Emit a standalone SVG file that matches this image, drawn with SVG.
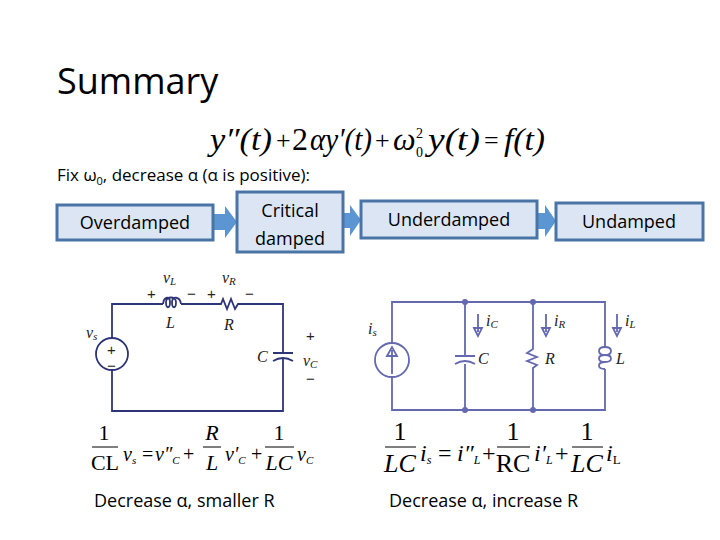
<svg xmlns="http://www.w3.org/2000/svg" width="720" height="540" viewBox="0 0 720 540">
<style>
.t{font-family:"Open Sans","Liberation Sans",sans-serif;fill:#000}
.box{fill:#dbe5f3;stroke:#4a74a6;stroke-width:3}
.arr{fill:#5b96d2}
.m{font-family:"Liberation Serif",serif;font-style:italic;fill:#000}
.r{font-family:"Liberation Serif",serif;fill:#000}
.w1{fill:none;stroke:#2e3576;stroke-width:1.8}
.w2{fill:none;stroke:#6468b0;stroke-width:1.8}
.ml{font-family:"Liberation Serif",serif;font-style:italic;font-size:16px;fill:#222}
.mp{font-family:"Liberation Sans",sans-serif;font-size:15px;fill:#222}
</style>
<rect width="720" height="540" fill="#fff"/>
<text class="t" x="57" y="94" font-size="36">Summary</text>
<g id="eq-main" font-size="32">
<text class="m" x="210" y="150" textLength="62" lengthAdjust="spacingAndGlyphs">y″(t)</text>
<text class="r" x="276" y="149" font-size="26">+</text>
<text class="r" x="292" y="150">2</text>
<text class="m" x="310" y="150" textLength="62" lengthAdjust="spacingAndGlyphs">αy′(t)</text>
<text class="r" x="375" y="149" font-size="26">+</text>
<text class="m" x="393" y="150">ω</text>
<text class="r" x="416" y="138" font-size="14">2</text>
<text class="r" x="416" y="157" font-size="14">0</text>
<text class="m" x="428" y="150" textLength="52" lengthAdjust="spacingAndGlyphs">y(t)</text>
<text class="r" x="484" y="149" font-size="26">=</text>
<text class="m" x="504" y="150" textLength="41" lengthAdjust="spacingAndGlyphs">f(t)</text>
</g>
<text class="t" x="57" y="181" font-size="17">Fix ω<tspan font-size="11" dy="4">0</tspan><tspan dy="-4">, decrease α (α is positive):</tspan></text>
<g id="connectors">
<polygon class="arr" points="214,214 225,214 225,206 237,222 225,238 225,230 214,230"/>
<polygon class="arr" points="343,213 350,213 350,205 361,220 350,236 350,228 343,228"/>
<polygon class="arr" points="537,213 545,213 545,205 556,221 545,237 545,229 537,229"/>
</g>
<g id="overdamped"><rect class="box" x="57" y="205" width="156" height="35"/><text class="t" x="135" y="229" font-size="18" text-anchor="middle">Overdamped</text></g>
<g id="critical"><rect class="box" x="237" y="192" width="106" height="60"/><text class="t" x="290" y="217" font-size="18" text-anchor="middle">Critical</text><text class="t" x="290" y="245" font-size="18" text-anchor="middle">damped</text></g>
<g id="underdamped"><rect class="box" x="361" y="201" width="176" height="37"/><text class="t" x="449" y="226" font-size="18" text-anchor="middle">Underdamped</text></g>
<g id="undamped"><rect class="box" x="556" y="203" width="147" height="37"/><text class="t" x="629" y="228" font-size="18" text-anchor="middle">Undamped</text></g>
<g id="series-circuit">
<path class="w1" d="M112,338 V304 H163 M181,304 H221 l2,-5 l4,10 l4,-10 l4,10 l3,-5 H283 V353 M283,359 V411 H112 V370"/>
<path class="w1" d="M163,304 C164,296 170,296 170,302 C170,309 166,309 166,302 C166,296 176,296 176,302 C176,309 172,309 172,302 C172,296 180,296 181,304"/>
<circle class="w1" cx="112" cy="354" r="16"/>
<path class="w1" d="M273,353 H293 M273,361 Q283,355 293,361"/>
<text class="mp" x="107" y="355">+</text><text class="mp" x="107" y="371">−</text>
<text class="ml" x="163" y="283">v<tspan font-size="11" dy="2">L</tspan></text>
<text class="ml" x="222" y="283">v<tspan font-size="11" dy="2">R</tspan></text>
<text class="mp" x="147" y="299">+</text><text class="mp" x="187" y="299">−</text>
<text class="mp" x="207" y="299">+</text><text class="mp" x="245" y="299">−</text>
<text class="ml" x="166" y="328">L</text><text class="ml" x="224" y="330">R</text>
<text class="ml" x="86" y="338">v<tspan font-size="11" dy="2">s</tspan></text>
<text class="ml" x="257" y="362">C</text>
<text class="mp" x="306" y="341">+</text><text class="ml" x="303" y="366">v<tspan font-size="11" dy="2">C</tspan></text><text class="mp" x="306" y="384">−</text>
</g>
<g id="parallel-circuit">
<path class="w2" d="M392,343 V302 H605 V347 M605,369 V410 H392 V377 M465,302 V356 M465,364 V410 M533,302 V349 l-6,4 l10,4 l-10,4 l10,4 l-4,3 V410"/>
<path class="w2" d="M455,356 H475 M455,364 Q465,358 475,364"/>
<path class="w2" d="M605,347 C597,347 597,355 605,355 C613,355 613,347 605,347 M605,355 C597,355 597,362 605,362 C613,362 613,355 605,355 M605,362 C597,362 597,369 605,369"/>
<circle class="w2" cx="392" cy="360" r="17"/>
<path class="w2" d="M392,374 V350 M387,356 L392,347 L397,356 Z"/>
<g fill="#6468b0"><circle cx="465" cy="302" r="3"/><circle cx="533" cy="302" r="3"/><circle cx="465" cy="410" r="3"/><circle cx="533" cy="410" r="3"/></g>
<path class="w2" d="M478,314 V332 M474,328 L478,336 L482,328 Z M546,314 V332 M542,328 L546,336 L550,328 Z M617,314 V332 M613,328 L617,336 L621,328 Z"/>
<text class="ml" x="486" y="326">i<tspan font-size="11" dy="2">C</tspan></text>
<text class="ml" x="554" y="326">i<tspan font-size="11" dy="2">R</tspan></text>
<text class="ml" x="625" y="326">i<tspan font-size="11" dy="2">L</tspan></text>
<text class="ml" x="368" y="334">i<tspan font-size="11" dy="2">s</tspan></text>
<text class="ml" x="478" y="364">C</text><text class="ml" x="545" y="364">R</text><text class="ml" x="616" y="364">L</text>
</g>
<g id="eq-left">
<text class="r" x="104" y="440" font-size="22" text-anchor="middle">1</text><line x1="92" y1="447" x2="118" y2="447" stroke="#000"/><text class="r" x="105" y="470" font-size="22" text-anchor="middle">CL</text>
<text class="m" x="123" y="461" font-size="20">v<tspan font-size="11" dy="3">s</tspan></text>
<text class="r" x="142" y="461" font-size="20">=</text>
<text class="m" x="155" y="461" font-size="20">v″<tspan font-size="11" dy="3">C</tspan></text>
<text class="r" x="183" y="461" font-size="20">+</text>
<text class="m" x="212" y="440" font-size="22" text-anchor="middle">R</text><line x1="203" y1="447" x2="221" y2="447" stroke="#000"/><text class="m" x="212" y="470" font-size="22" text-anchor="middle">L</text>
<text class="m" x="225" y="461" font-size="20">v′<tspan font-size="11" dy="3">C</tspan></text>
<text class="r" x="251" y="461" font-size="20">+</text>
<text class="r" x="279" y="440" font-size="22" text-anchor="middle">1</text><line x1="265" y1="447" x2="294" y2="447" stroke="#000"/><text class="m" x="279" y="470" font-size="22" text-anchor="middle">LC</text>
<text class="m" x="297" y="461" font-size="20">v<tspan font-size="11" dy="3">C</tspan></text>
</g>
<g id="eq-right">
<text class="r" x="400" y="440" font-size="26" text-anchor="middle">1</text><line x1="385" y1="447" x2="416" y2="447" stroke="#000"/><text class="m" x="400" y="472" font-size="26" text-anchor="middle">LC</text>
<text class="m" x="420" y="461" font-size="24">i<tspan font-size="12" dy="3">s</tspan></text>
<text class="r" x="438" y="461" font-size="24">=</text>
<text class="m" x="457" y="461" font-size="24">i″<tspan font-size="12" dy="3">L</tspan></text>
<text class="r" x="482" y="461" font-size="24">+</text>
<text class="r" x="513" y="440" font-size="26" text-anchor="middle">1</text><line x1="497" y1="447" x2="530" y2="447" stroke="#000"/><text class="r" x="513" y="472" font-size="26" text-anchor="middle">RC</text>
<text class="m" x="534" y="461" font-size="24">i′<tspan font-size="12" dy="3">L</tspan></text>
<text class="r" x="555" y="461" font-size="24">+</text>
<text class="r" x="587" y="440" font-size="26" text-anchor="middle">1</text><line x1="572" y1="447" x2="603" y2="447" stroke="#000"/><text class="m" x="587" y="472" font-size="26" text-anchor="middle">LC</text>
<text class="m" x="606" y="461" font-size="24">i<tspan class="r" font-size="13" dy="3" font-style="normal">L</tspan></text>
</g>
<text class="t" x="94" y="507" font-size="18">Decrease α, smaller R</text>
<text class="t" x="389" y="507" font-size="18">Decrease α, increase R</text>
</svg>
